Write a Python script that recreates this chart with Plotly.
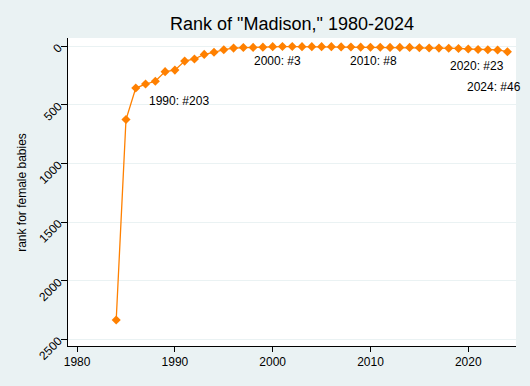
import plotly.graph_objects as go

years = list(range(1984, 2025))
ranks = [2335, 625, 356, 322, 298, 216, 203, 126, 108, 69, 51, 29, 15, 10, 9, 7,
         3, 2, 2, 3, 3, 3, 3, 5, 6, 7, 8, 8, 9, 9, 9,
         12, 14, 15, 16, 18, 23, 27, 29, 31, 46]

label_texts = ["1990: #203", "2000: #3", "2010: #8", "2020: #23", "2024: #46"]
label_x = [1990.4, 2000.5, 2010.3, 2020.9, 2022.6]
label_y = [464, 123, 123, 168, 345]

y_ticks = [0, 500, 1000, 1500, 2000, 2500]
x_ticks = [1980, 1990, 2000, 2010, 2020]

ORANGE = "#FF8000"
BG = "#EAF2F3"
FONT = "Liberation Sans, Arial, sans-serif"

fig = go.Figure()
fig.add_trace(go.Scatter(
    x=years, y=ranks, mode="lines+markers",
    line=dict(color=ORANGE, width=1.3),
    marker=dict(symbol="diamond", size=7, color=ORANGE),
    showlegend=False, hoverinfo="x+y",
))

for t, x, y in zip(label_texts, label_x, label_y):
    fig.add_annotation(x=x, y=y, text=t, showarrow=False, xref="x", yref="y",
                       xanchor="center", yanchor="middle",
                       font=dict(size=12, color="black", family=FONT))

fig.add_annotation(x=-0.103, y=0.5, xref="paper", yref="paper",
                   text="rank for female babies", textangle=-90, showarrow=False,
                   xanchor="center", yanchor="middle",
                   font=dict(size=12, color="black", family=FONT))

fig.update_layout(
    width=530, height=386,
    paper_bgcolor=BG, plot_bgcolor="white",
    margin=dict(l=68, r=14, t=38, b=40),
    title=dict(text='Rank of "Madison," 1980-2024', x=0.5, xref="paper",
               xanchor="center", y=1 - 24 / 386, yref="container", yanchor="middle",
               font=dict(size=18, color="black", family=FONT)),
    font=dict(family=FONT, color="black"),
    xaxis=dict(range=[1979.07, 2024.88], tickvals=x_ticks, ticks="outside",
               ticklen=5, tickcolor="black", showgrid=False, zeroline=False,
               showline=True, linecolor="black", linewidth=1,
               tickfont=dict(size=12, color="black")),
    yaxis=dict(range=[2557, -71], tickvals=y_ticks, ticks="outside",
               ticklen=6, tickcolor="black", showgrid=True, gridcolor="#EAF2F3",
               gridwidth=1, zeroline=False, showline=True, linecolor="black",
               linewidth=1, tickangle=-45, tickfont=dict(size=12, color="black")),
)

fig.write_html("out.html",
               config={"displayModeBar": False},
               post_script="document.body.style.margin='0';document.body.style.padding='0';document.body.style.overflow='hidden';")
